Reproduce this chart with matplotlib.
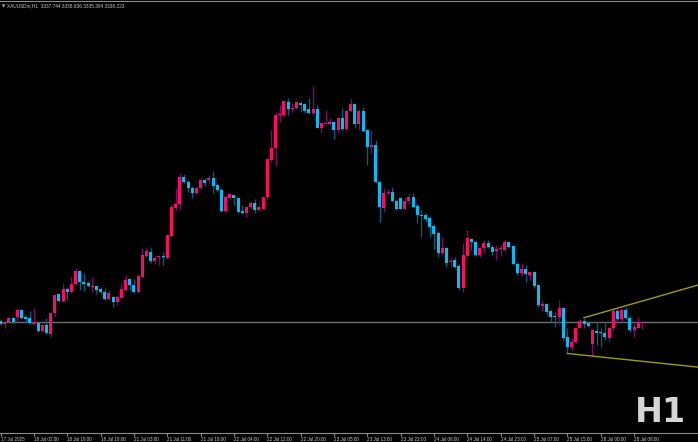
import matplotlib
matplotlib.use("Agg")
import matplotlib.pyplot as plt
import matplotlib.transforms as mtransforms

# bougies H1 XAUUSDm
opens = [
    3338.9, 3337.4, 3338.5, 3339.9, 3340.6, 3343.3, 3340.6, 3339.9, 3337.5, 3337.8,
    3334.5, 3337.1, 3333.3, 3342.0, 3350.1, 3347.3, 3352.4, 3351.0, 3354.4, 3360.0,
    3355.5, 3355.1, 3353.4, 3353.7, 3352.4, 3351.3, 3348.0, 3349.1, 3347.0, 3348.7,
    3352.0, 3356.6, 3354.1, 3351.0, 3357.6, 3366.6, 3368.3, 3364.3, 3366.0, 3366.4,
    3365.7, 3374.9, 3387.0, 3388.4, 3400.1, 3398.0, 3395.5, 3393.1, 3395.2, 3398.7,
    3398.7, 3399.4, 3396.6, 3394.5, 3385.7, 3390.9, 3392.3, 3391.2, 3385.5, 3384.8,
    3387.4, 3388.8, 3385.9, 3386.6, 3391.3, 3407.2, 3412.2, 3426.2, 3426.3, 3432.0,
    3428.9, 3429.2, 3431.3, 3430.9, 3428.7, 3427.0, 3428.7, 3420.7, 3422.6, 3422.6,
    3423.5, 3419.9, 3424.9, 3420.4, 3428.2, 3431.0, 3422.4, 3428.0, 3419.9, 3412.9,
    3413.4, 3398.0, 3386.9, 3393.0, 3393.6, 3389.9, 3390.9, 3386.6, 3389.9, 3391.6,
    3387.6, 3384.0, 3383.8, 3382.7, 3379.3, 3376.4, 3367.5, 3370.0, 3363.7, 3364.7,
    3362.3, 3353.0, 3366.4, 3373.6, 3372.5, 3366.8, 3369.7, 3371.8, 3370.4, 3368.6,
    3369.3, 3369.0, 3372.2, 3370.7, 3363.0, 3359.1, 3360.8, 3358.3, 3359.8, 3354.1,
    3345.3, 3345.9, 3343.0, 3341.1, 3340.6, 3344.2, 3332.1, 3327.9, 3329.7, 3336.0,
    3338.8, 3338.1, 3329.0, 3334.7, 3334.0, 3333.6, 3331.7, 3335.7, 3343.0, 3339.6,
    3343.5, 3340.2, 3335.0, 3336.0, 3337.744,
]
highs = [
    3339.6, 3338.8, 3340.6, 3340.6, 3344.2, 3343.7, 3341.3, 3343.0, 3344.2, 3338.5,
    3337.4, 3340.2, 3342.8, 3350.1, 3350.5, 3354.8, 3353.0, 3357.6, 3361.2, 3360.5,
    3359.0, 3355.8, 3357.3, 3353.8, 3353.4, 3353.0, 3352.0, 3349.5, 3349.8, 3354.8,
    3358.3, 3357.2, 3356.6, 3358.6, 3370.0, 3369.7, 3370.4, 3366.8, 3366.8, 3368.0,
    3375.6, 3388.4, 3395.5, 3401.6, 3401.1, 3398.7, 3396.3, 3395.6, 3399.1, 3399.4,
    3400.8, 3402.5, 3397.3, 3395.5, 3392.3, 3393.4, 3392.4, 3391.6, 3388.1, 3387.6,
    3389.9, 3390.5, 3388.5, 3391.6, 3407.9, 3419.9, 3427.7, 3430.6, 3432.7, 3433.4,
    3431.3, 3432.4, 3432.4, 3431.3, 3433.4, 3438.8, 3430.6, 3423.5, 3428.4, 3424.9,
    3423.8, 3425.2, 3429.2, 3428.4, 3433.4, 3431.3, 3428.7, 3429.9, 3420.2, 3419.9,
    3415.7, 3398.4, 3395.2, 3394.7, 3395.6, 3390.5, 3391.6, 3391.3, 3393.0, 3393.3,
    3388.8, 3385.9, 3384.8, 3383.4, 3380.0, 3377.0, 3374.6, 3370.4, 3366.1, 3366.1,
    3362.9, 3371.8, 3377.5, 3374.2, 3372.8, 3370.4, 3373.2, 3373.2, 3371.1, 3371.1,
    3371.4, 3373.2, 3372.8, 3370.8, 3363.7, 3363.6, 3362.6, 3359.8, 3360.0, 3354.4,
    3347.7, 3346.3, 3343.9, 3342.8, 3347.7, 3344.5, 3336.0, 3331.4, 3336.4, 3339.5,
    3339.9, 3338.8, 3335.4, 3338.5, 3336.0, 3338.5, 3336.0, 3344.2, 3344.2, 3343.9,
    3344.9, 3341.1, 3338.5, 3340.6, 3338.836,
]
lows = [
    3337.1, 3335.7, 3338.2, 3337.4, 3338.5, 3339.6, 3338.5, 3337.4, 3337.1, 3334.2,
    3334.2, 3333.3, 3331.8, 3340.6, 3346.7, 3347.0, 3347.7, 3350.8, 3354.1, 3352.0,
    3351.5, 3353.1, 3351.3, 3350.1, 3350.1, 3347.7, 3347.7, 3344.9, 3345.6, 3348.4,
    3351.5, 3352.0, 3350.8, 3350.5, 3357.3, 3365.9, 3363.3, 3362.9, 3362.6, 3362.6,
    3365.1, 3374.6, 3386.0, 3386.0, 3397.3, 3393.8, 3391.2, 3392.6, 3394.5, 3396.3,
    3397.3, 3393.1, 3393.8, 3385.0, 3385.2, 3390.5, 3388.1, 3384.5, 3384.2, 3383.1,
    3386.2, 3384.5, 3385.7, 3386.2, 3390.6, 3406.5, 3404.8, 3423.5, 3426.0, 3426.3,
    3427.7, 3428.7, 3427.7, 3427.3, 3426.6, 3426.3, 3420.7, 3418.8, 3422.5, 3422.1,
    3416.0, 3419.2, 3419.9, 3419.9, 3427.7, 3420.9, 3419.9, 3419.2, 3405.1, 3410.3,
    3397.3, 3381.0, 3385.2, 3392.3, 3389.5, 3385.9, 3386.4, 3386.2, 3388.5, 3387.1,
    3380.6, 3374.3, 3381.0, 3374.3, 3369.6, 3365.8, 3366.8, 3361.9, 3362.3, 3361.5,
    3352.0, 3351.3, 3365.9, 3369.0, 3366.4, 3366.1, 3367.6, 3369.7, 3366.8, 3364.7,
    3366.6, 3368.3, 3369.7, 3362.6, 3358.3, 3358.1, 3355.2, 3356.2, 3352.7, 3344.9,
    3343.0, 3341.1, 3338.5, 3336.4, 3337.4, 3330.3, 3325.0, 3326.5, 3329.3, 3335.7,
    3335.7, 3336.4, 3324.1, 3328.6, 3327.9, 3330.7, 3330.0, 3334.5, 3338.8, 3338.5,
    3339.6, 3334.0, 3332.1, 3335.7, 3335.394,
]
closes = [
    3337.5, 3338.5, 3339.9, 3338.5, 3343.5, 3339.9, 3339.6, 3337.8, 3338.2, 3334.5,
    3337.1, 3333.5, 3342.0, 3349.8, 3347.3, 3352.4, 3351.3, 3354.5, 3360.0, 3355.2,
    3354.7, 3353.7, 3353.7, 3352.0, 3351.3, 3348.1, 3350.5, 3347.0, 3349.1, 3352.4,
    3356.2, 3354.1, 3351.0, 3357.9, 3366.8, 3368.5, 3364.3, 3365.7, 3366.4, 3366.0,
    3375.3, 3387.4, 3388.5, 3400.1, 3397.7, 3395.5, 3393.1, 3395.5, 3398.7, 3397.3,
    3399.4, 3396.3, 3394.5, 3385.7, 3391.6, 3392.6, 3390.9, 3385.0, 3384.5, 3387.1,
    3389.1, 3385.9, 3387.1, 3391.3, 3407.5, 3412.2, 3426.3, 3426.6, 3432.3, 3428.9,
    3429.3, 3431.7, 3430.6, 3428.2, 3427.0, 3428.7, 3420.9, 3423.1, 3423.1, 3423.2,
    3419.9, 3424.9, 3420.2, 3428.2, 3431.0, 3422.5, 3428.2, 3419.7, 3412.9, 3413.4,
    3398.0, 3387.1, 3393.0, 3393.6, 3389.9, 3386.4, 3386.6, 3389.9, 3391.3, 3387.4,
    3383.8, 3383.5, 3382.0, 3378.9, 3375.7, 3367.5, 3369.9, 3363.3, 3364.3, 3361.9,
    3353.0, 3366.8, 3373.9, 3372.2, 3366.8, 3370.0, 3371.8, 3370.1, 3368.3, 3369.4,
    3369.7, 3372.2, 3370.4, 3363.0, 3359.1, 3360.9, 3358.6, 3359.5, 3353.7, 3345.6,
    3346.0, 3342.5, 3340.6, 3340.5, 3344.2, 3331.7, 3327.9, 3330.0, 3336.0, 3338.8,
    3337.5, 3336.8, 3335.0, 3333.6, 3333.6, 3332.1, 3335.7, 3343.0, 3339.6, 3343.5,
    3340.2, 3335.0, 3336.4, 3338.2, 3338.223,
]

# étiquettes de l'axe du temps (une toutes les 8 bougies)
time_labels = [
    "17 Jul 2025", "18 Jul 02:00", "18 Jul 10:00", "18 Jul 18:00", "21 Jul 03:00",
    "21 Jul 11:00", "21 Jul 19:00", "22 Jul 04:00", "22 Jul 12:00", "22 Jul 20:00",
    "23 Jul 05:00", "23 Jul 13:00", "23 Jul 22:00", "24 Jul 06:00", "24 Jul 14:00",
    "24 Jul 23:00", "25 Jul 07:00", "25 Jul 15:00", "28 Jul 00:00", "28 Jul 08:00",
]

# lignes de tendance (indice de bougie, prix)
upper_trend = [(140, 3340.2), (167.4, 3354.1)]
lower_trend = [(136, 3325.0), (167.4, 3319.2)]

header = "XAUUSDm,H1  3337.744 3338.836 3335.394 3338.223"

# couleurs
bull_body = "#ff0a68"
bull_wick = "#7a0a6a"
bear_body = "#00bff5"
bear_wick = "#00607c"
text_col = "#c8c8c8"

W, H = 698, 442
px_per_bar = 4.167

fig = plt.figure(figsize=(W / 100, H / 100), dpi=100, facecolor="black")
ax = fig.add_axes([0, 9 / H, 1, 432 / H])
ax.set_facecolor("black")

x0 = -0.15
ax.set_xlim(x0, x0 + W / px_per_bar)
ax.set_ylim(3291.2, 3474.8)

n = len(opens)
for i in range(n):
    o, h, l, c = opens[i], highs[i], lows[i], closes[i]
    up = c >= o
    ax.vlines(i, l, h, color=bull_wick if up else bear_wick, lw=1, zorder=2)
    bottom = min(o, c)
    height = max(abs(c - o), 0.45)
    ax.bar(i, height, bottom=bottom, width=0.72,
           color=bull_body if up else bear_body, linewidth=0, zorder=3)

# ligne du prix courant
ax.axhline(closes[-1], color="#6e6e6e", lw=1, zorder=1)

# lignes de tendance
for line in (upper_trend, lower_trend):
    ax.plot([p[0] for p in line], [p[1] for p in line], color="#9c9c14", lw=1, zorder=4)

# axe du temps
ticks = [8 * k for k in range(len(time_labels))]
ax.set_xticks(ticks)
ax.set_xticklabels(time_labels, fontsize=3.3, color=text_col, ha="left",
                   family="Liberation Sans")
offset = mtransforms.ScaledTranslation(2 / 100, 0, fig.dpi_scale_trans)
for lab in ax.get_xticklabels():
    lab.set_transform(lab.get_transform() + offset)
ax.tick_params(axis="x", direction="out", length=2, width=0.8, color="#8c8c8c", pad=1)
ax.set_yticks([])

for side in ("left", "right"):
    ax.spines[side].set_visible(False)
for side in ("top", "bottom"):
    ax.spines[side].set_color("#8c8c8c")
    ax.spines[side].set_linewidth(0.8)

# en-tête et libellé de période
fig.text(2 / W, 1 - 6 / H, "\u25bc", fontsize=3, color=text_col, va="center")
fig.text(7 / W, 1 - 6 / H, header, fontsize=3.4, color=text_col, va="center",
         family="Liberation Sans")
fig.text(686 / W, 1 - 422 / H, "H1", fontsize=24, fontweight="bold",
         color="#d6d6d6", ha="right", va="baseline")

fig.savefig("out.png", dpi=100, facecolor="black")
